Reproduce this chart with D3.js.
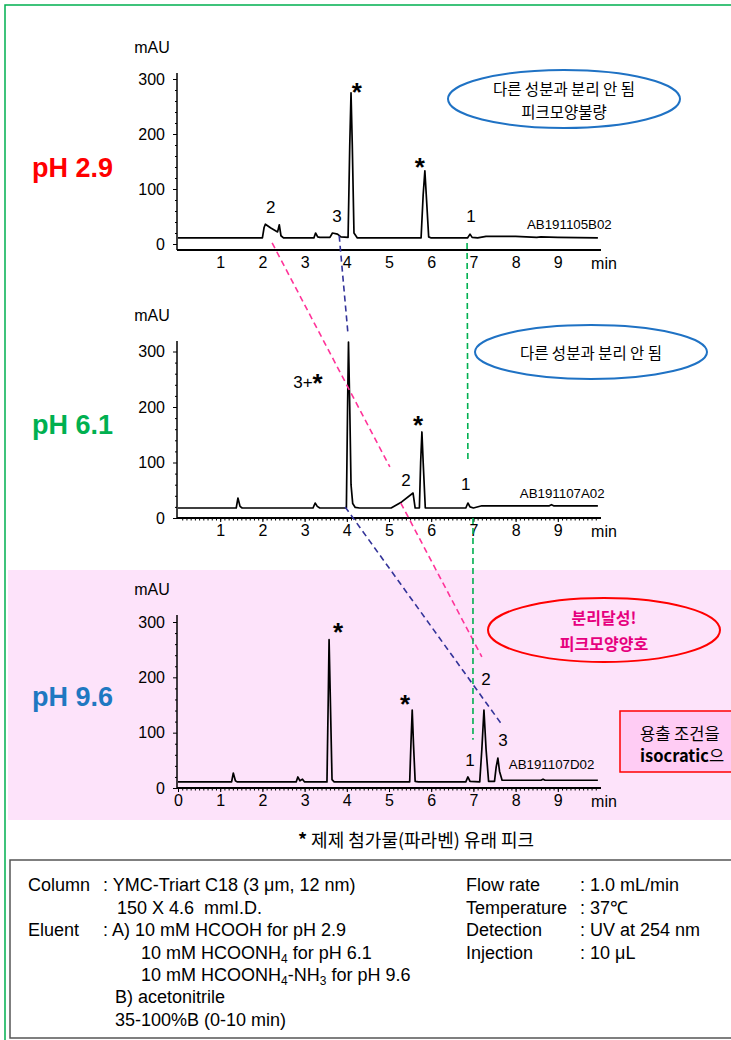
<!DOCTYPE html>
<html><head><meta charset="utf-8">
<script src="https://cdn.jsdelivr.net/npm/d3@7"></script>
<style>
body{margin:0;background:#fff}
svg{display:block}
text{font-family:"Liberation Sans",Arial,sans-serif;fill:#000}
.kr{font-family:"Noto Sans CJK KR","Noto Sans",sans-serif}
</style></head><body>
<svg id="c" width="731" height="1040"></svg>
<script>
// ---------- data ----------
const phLabels = ["pH 2.9", "pH 6.1", "pH 9.6"];
const phColors = ["#ff0000", "#00b050", "#1f78c1"];
const runIds = ["AB191105B02", "AB191107A02", "AB191107D02"];
const yTicks = [0, 100, 200, 300];
const xTicksTop = [1, 2, 3, 4, 5, 6, 7, 8, 9];
const xTicksBottom = [0, 1, 2, 3, 4, 5, 6, 7, 8, 9];

// chromatogram vertices [time min, mAU]
const tracePH29 = [[0,11],[2.0,11],[2.04,30],[2.07,36],[2.2,29],[2.36,22],[2.40,35],[2.44,15],[2.5,11],[3.22,11],[3.26,20],[3.31,13],[3.36,12],[3.6,12],[3.66,20],[3.78,18],[3.86,13],[4.03,12],[4.07,180],[4.1,275],[4.13,180],[4.17,20],[4.25,11],[5.76,11],[5.81,90],[5.85,133],[5.89,80],[5.94,13],[6.0,11],[6.86,11],[6.92,18],[6.97,12],[7.1,11],[7.3,14],[8.0,14],[8.5,12],[8.6,13],[9.0,12],[9.95,11]];
const tracePH61 = [[0,18],[1.38,18],[1.42,36],[1.47,21],[1.52,18],[3.2,18],[3.25,27],[3.3,21],[3.36,18],[3.99,18],[4.02,210],[4.04,317],[4.07,200],[4.1,60],[4.14,26],[4.2,19],[4.3,18],[5.05,18],[5.3,29],[5.57,45],[5.62,18],[5.72,18],[5.75,100],[5.78,155],[5.81,100],[5.86,18],[6.82,18],[6.87,27],[6.92,20],[7.0,18],[7.2,22],[8.8,22],[8.85,24],[8.9,22],[9.95,22]];
const tracePH96 = [[0,11],[1.27,11],[1.31,27],[1.36,13],[1.4,11],[2.8,11],[2.84,20],[2.89,13],[2.95,16],[3.0,11],[3.53,11],[3.56,160],[3.58,268],[3.61,160],[3.65,15],[3.7,11],[5.49,11],[5.52,80],[5.55,141],[5.58,80],[5.62,12],[5.7,11],[6.82,11],[6.87,20],[6.92,12],[7.15,11],[7.2,70],[7.25,141],[7.3,70],[7.36,12],[7.5,12],[7.54,38],[7.58,54],[7.62,30],[7.68,14],[8.0,14],[8.6,14],[8.65,16],[8.7,14],[9.95,14]];

// peak annotations [time, mAU, text]
const labelsPH29 = [[4.24,289,"*"],[5.73,153,"*"],[2.2,67,"2"],[3.77,51,"3"],[6.94,51,"1"]];
const labelsPH61 = [[3.08,245,"3+*"],[5.69,180,"*"],[5.4,68,"2"],[6.82,61,"1"]];
const labelsPH96 = [[3.79,295,"*"],[5.38,165,"*"],[6.92,51,"1"],[7.3,197,"2"],[7.7,87,"3"]];
const runIdPos = [[8.27,36],[8.1,45],[7.84,43]];

// dashed connectors [chartIndex, time, mAU] -> [chartIndex, time, mAU]
const connectors = [
  {color:"#ff3399", a:[0,2.23,2],  b:[1,5.02,92]},
  {color:"#ff3399", a:[1,5.28,27], b:[2,7.2,237]},
  {color:"#333399", a:[0,3.82,15], b:[1,4.03,330]},
  {color:"#333399", a:[1,3.96,20], b:[2,7.68,114]},
  {color:"#00b050", a:[0,6.85,2],  b:[1,6.87,99]},
  {color:"#00b050", a:[1,6.99,0],  b:[2,6.99,87]}
];

// ---------- layout ----------
const svg = d3.select("#c");
const charts = [
  {trace:tracePH29, labels:labelsPH29, axisY:250, top:73, y0:244, y300:79, ticks:xTicksTop, minor:false, phY:177},
  {trace:tracePH61, labels:labelsPH61, axisY:518, top:341, y0:518, y300:351.5, ticks:xTicksTop, minor:true, phY:434},
  {trace:tracePH96, labels:labelsPH96, axisY:788, top:615, y0:788, y300:622, ticks:xTicksBottom, minor:true, phY:706}
];
charts.forEach(c => {
  c.x = d3.scaleLinear().domain([0,10]).range([178,600]);
  c.y = d3.scaleLinear().domain([0,300]).range([c.y0, c.y300]);
});

// pink band for pH 9.6
svg.append("rect").attr("x",8).attr("y",570).attr("width",723).attr("height",250).attr("fill","#fde3fa");

// outer green frame
svg.append("path").attr("d","M5,1040 V5 H731").attr("fill","none").attr("stroke","#00b050").attr("stroke-width",1.5);

charts.forEach((c,i) => {
  const g = svg.append("g");
  // y axis
  const ya = g.append("g").attr("transform","translate(177,0)")
    .call(d3.axisLeft(c.y).tickValues(yTicks).tickSize(4).tickPadding(8).tickFormat(d3.format("d")));
  ya.select(".domain").remove();
  ya.selectAll("text").attr("font-size",16).attr("font-family","Liberation Sans, Arial, sans-serif");
  ya.selectAll("line").attr("stroke","#000");
  const ym = g.append("g").attr("transform","translate(177,0)")
    .call(d3.axisLeft(c.y).tickValues(d3.range(20,320,20).filter(v=>v%100)).tickSize(2).tickFormat(""));
  ym.select(".domain").remove();
  ym.selectAll("line").attr("stroke","#000");
  g.append("line").attr("x1",177).attr("x2",177).attr("y1",c.top).attr("y2",c.axisY).attr("stroke","#000").attr("stroke-width",1.5);

  // x axis
  const xa = g.append("g").attr("transform",`translate(0,${c.axisY})`)
    .call(d3.axisBottom(c.x).tickValues(c.ticks).tickSize(c.minor?4:0).tickPadding(c.minor?3:7).tickFormat(d3.format("d")));
  xa.select(".domain").remove();
  xa.selectAll("text").attr("font-size",16).attr("font-family","Liberation Sans, Arial, sans-serif");
  xa.selectAll("line").attr("stroke","#000");
  if (c.minor) {
    const xm = g.append("g").attr("transform",`translate(0,${c.axisY})`)
      .call(d3.axisBottom(c.x).tickValues(d3.range(1,100).map(v=>v/10)).tickSize(2.5).tickFormat(""));
    xm.select(".domain").remove();
    xm.selectAll("line").attr("stroke","#000");
  }
  g.append("line").attr("x1",177).attr("x2",c.x(10)+1).attr("y1",c.axisY).attr("y2",c.axisY).attr("stroke","#000").attr("stroke-width",2);
  g.append("text").attr("x",c.x(10)+4).attr("y",c.axisY+19).attr("text-anchor","middle").attr("font-size",16).text("min");
  g.append("text").attr("x",152).attr("y",c.top-20).attr("text-anchor","middle").attr("font-size",16).text("mAU");

  // trace
  g.append("path").datum(c.trace)
    .attr("d", d3.line().x(d=>c.x(d[0])).y(d=>c.y(d[1])))
    .attr("fill","none").attr("stroke","#000").attr("stroke-width",1.7).attr("stroke-linejoin","round");

  // peak labels
  c.labels.forEach(([t,v,s]) => {
    const t0 = g.append("text").attr("x",c.x(t)).attr("y",c.y(v))
      .attr("text-anchor","middle").attr("dominant-baseline","central").attr("font-size",17);
    const alone = s === "*";
    s.split("").forEach(ch => {
      if (ch === "*") t0.append("tspan").attr("font-size",26).attr("font-weight","bold").attr("dy", alone ? "0.28em" : "0.02em").text("*");
      else t0.append("tspan").text(ch);
    });
  });
  g.append("text").attr("x",c.x(runIdPos[i][0])).attr("y",c.y(runIdPos[i][1]))
    .attr("dominant-baseline","central").attr("font-size",13.3).text(runIds[i]);

  // pH label
  svg.append("text").attr("x",32).attr("y",c.phY).attr("font-size",27).attr("font-weight","bold")
    .style("fill",phColors[i]).text(phLabels[i]);
});

// connectors
connectors.forEach(k => {
  const A = charts[k.a[0]], B = charts[k.b[0]];
  svg.append("line")
    .attr("x1",A.x(k.a[1])).attr("y1",A.y(k.a[2]))
    .attr("x2",B.x(k.b[1])).attr("y2",B.y(k.b[2]))
    .attr("stroke",k.color).attr("stroke-width",1.6).attr("stroke-dasharray","6,4");
});

// annotation ellipses
function bubble(cx, cy, rx, ry, color, lines, opts={}) {
  svg.append("ellipse").attr("cx",cx).attr("cy",cy).attr("rx",rx).attr("ry",ry)
    .attr("fill","none").attr("stroke",color).attr("stroke-width",2);
  lines.forEach((s,j) => {
    svg.append("text").attr("class","kr").attr("x",cx).attr("y",cy + (j - (lines.length-1)/2)*(opts.gap||23))
      .attr("text-anchor","middle").attr("dominant-baseline","central")
      .attr("font-size",opts.size||15.5).attr("font-weight",opts.bold?"bold":"normal")
      .style("fill",opts.fill||"#000").text(s);
  });
}
bubble(564, 99, 116, 29, "#1f72c4", ["다른 성분과 분리 안 됨", "피크모양불량"]);
bubble(591, 352, 116, 27, "#1f72c4", ["다른 성분과 분리 안 됨"]);
bubble(604, 630, 116, 32, "#ff0000", ["분리달성!", "피크모양양호"], {bold:true, fill:"#e6007e", size:16, gap:26});

// right side note box
svg.append("rect").attr("x",620).attr("y",711).attr("width",130).attr("height",61)
  .attr("fill","#ffccf4").attr("stroke","#ff0000").attr("stroke-width",1.5);
svg.append("text").attr("class","kr").attr("x",640).attr("y",740).attr("font-size",16.5).text("용출 조건을");
const iso = svg.append("text").attr("class","kr").attr("x",640).attr("y",762).attr("font-size",16.5);
iso.append("tspan").attr("font-weight","bold").text("isocratic");
iso.append("tspan").text("으");

// footnote
const fn = svg.append("text").attr("class","kr").attr("x",416).attr("y",847).attr("text-anchor","middle").attr("font-size",18);
fn.append("tspan").attr("font-weight","bold").text("* ");
fn.append("tspan").text("제제 첨가물(파라벤) 유래 피크");

// conditions box
svg.append("rect").attr("x",10).attr("y",860).attr("width",730).attr("height",178)
  .attr("fill","none").attr("stroke","#555").attr("stroke-width",1.5);
const FS = 18;
const cond = [
  [28, 891, [["Column"]]],
  [103, 891, [[": YMC-Triart C18 (3 μm, 12 nm)"]]],
  [117, 914, [["150 X 4.6  mmI.D."]]],
  [28, 936, [["Eluent"]]],
  [103, 936, [[": A) 10 mM HCOOH for pH 2.9"]]],
  [141, 959, [["10 mM HCOONH"],["4","sub"],[" for pH 6.1"]]],
  [141, 981, [["10 mM HCOONH"],["4","sub"],["-NH"],["3","sub"],[" for pH 9.6"]]],
  [115, 1003, [["B) acetonitrile"]]],
  [115, 1026, [["35-100%B (0-10 min)"]]]
];
cond.forEach(([x,y,parts]) => {
  const t = svg.append("text").attr("x",x).attr("y",y).attr("font-size",FS).style("white-space","pre");
  let prevSub = false;
  parts.forEach(p => {
    const ts = t.append("tspan").text(p[0]);
    if (p[1]==="sub") { ts.attr("font-size",12).attr("dy",4); prevSub = true; }
    else { if (prevSub) ts.attr("dy",-4); prevSub = false; }
  });
});
const condR = [["Flow rate",": 1.0 mL/min",891],["Temperature",": 37℃",914],["Detection",": UV at 254 nm",936],["Injection",": 10 μL",959]];
condR.forEach(([a,b,y]) => {
  svg.append("text").attr("x",466).attr("y",y).attr("font-size",FS).text(a);
  svg.append("text").attr("x",580).attr("y",y).attr("font-size",FS).text(b);
});
</script>
</body></html>
